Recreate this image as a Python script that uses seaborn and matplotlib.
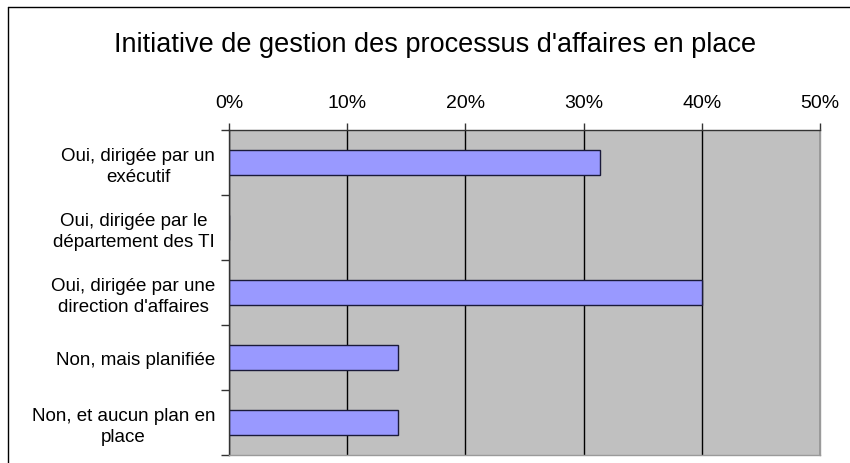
import numpy as np
import matplotlib
matplotlib.use("Agg")
import matplotlib.pyplot as plt
from matplotlib.ticker import FixedLocator, PercentFormatter
import seaborn as sns

# Data (share of respondents, %)
categories = [
    "Oui, dirigée par un\nexécutif",
    "Oui, dirigée par le\ndépartement des TI",
    "Oui, dirigée par une\ndirection d'affaires",
    "Non, mais planifiée",
    "Non, et aucun plan en\nplace",
]
values = [31.4, 0.0, 40.0, 14.3, 14.3]
x_ticks = [0, 10, 20, 30, 40, 50]

sns.set_style("white")
plt.rcParams["font.family"] = ["Liberation Sans", "DejaVu Sans"]
plt.rcParams["text.color"] = "black"
plt.rcParams["xtick.color"] = "black"
plt.rcParams["ytick.color"] = "black"

fig = plt.figure(figsize=(8.5, 4.64), dpi=100)
ax = fig.add_axes([229 / 850, 1 - 456 / 464, 591 / 850, 325 / 464])

sns.barplot(x=values, y=categories, orient="h", color="#9999FF",
            edgecolor="#1a1a3a", linewidth=1.0, width=0.37, saturation=1,
            ax=ax)

ax.set_facecolor("#C0C0C0")
ax.set_xlim(0, 50)
ax.set_ylim(len(categories) - 0.5, -0.5)
ax.set_xticks(x_ticks)
ax.xaxis.set_major_formatter(PercentFormatter(decimals=0))
ax.xaxis.tick_top()
ax.tick_params(axis="x", which="major", direction="out", length=5, width=1,
               color="#333333", pad=8.5, labelsize=14)
ax.grid(axis="x", color="black", linewidth=1.0)
ax.set_axisbelow(True)

# category labels centred, ticks between categories
ax.tick_params(axis="y", which="major", length=0, pad=10, labelsize=13.5)
for lbl in ax.get_yticklabels():
    lbl.set_multialignment("center")
    lbl.set_linespacing(1.25)
ax.yaxis.set_minor_locator(FixedLocator(np.arange(-0.5, len(categories), 1)))
ax.tick_params(axis="y", which="minor", direction="out", length=6, width=1,
               color="#333333", left=True)

for side in ["left", "top"]:
    ax.spines[side].set_color("#333333")
    ax.spines[side].set_linewidth(1.0)
for side in ["right", "bottom"]:
    ax.spines[side].set_color("#9a9a9a")
    ax.spines[side].set_linewidth(1.0)

ax.set_xlabel("")
ax.set_ylabel("")

fig.text(435 / 850, 1 - 45 / 464, "Initiative de gestion des processus d'affaires en place",
         ha="center", va="center", fontsize=19.5)

# outer chart border
fig.add_artist(plt.Line2D([7.5 / 850, 7.5 / 850], [0, 1 - 8 / 464], color="black", lw=1))
fig.add_artist(plt.Line2D([7.5 / 850, 1], [1 - 8 / 464, 1 - 8 / 464], color="black", lw=1))

fig.savefig("out.png", dpi=100)
